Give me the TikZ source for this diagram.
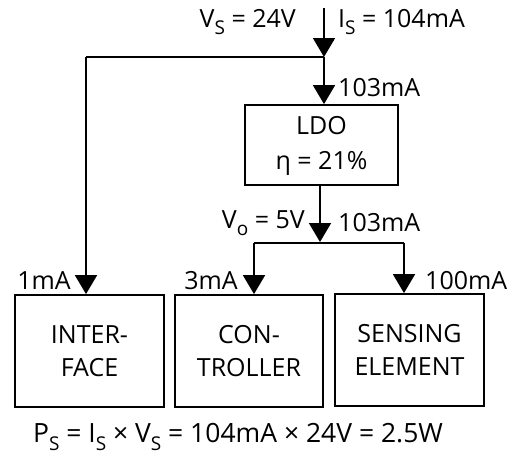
\documentclass[tikz,border=0pt]{standalone}
\usepackage{fontspec}
\setmainfont{Open Sans}
\usetikzlibrary{arrows.meta}
\newcommand{\sbs}[1]{\raisebox{-0.28em}{\fontsize{19}{19}\selectfont #1}}
\begin{document}
\begin{tikzpicture}[x=1pt,y=-1pt,
  wire/.style={line width=1.8pt,-{Triangle[width=22pt,length=19pt]}},
  plain/.style={line width=1.8pt},
  blk/.style={draw,line width=1.8pt,inner sep=0pt,align=center,font=\fontsize{25}{33}\selectfont},
  lbl/.style={font=\fontsize{25}{28}\selectfont,inner sep=0pt}]
\useasboundingbox (0,0) rectangle (513,458);
\node[blk,minimum width=153pt,minimum height=80pt,font=\fontsize{25}{35}\selectfont,text depth=4pt] (ldo) at (321.5,145) {LDO\\η = 21\%};
\node[blk,minimum width=149pt,minimum height=112pt] (ifc) at (89.5,351) {INTER-\\FACE};
\node[blk,minimum width=148pt,minimum height=112pt] (ctl) at (249,351) {CON-\\TROLLER};
\node[blk,minimum width=149pt,minimum height=112pt] (sen) at (409.5,350) {SENSING\\ELEMENT};
\coordinate (top) at (324,8);
\coordinate (j1) at (324,57);
\coordinate (l1) at (86,57);
\coordinate (j2) at (320,242);
\coordinate (c2) at (254,243);
\coordinate (s2) at (404,243);
\draw[wire] (top) -- (j1);
\draw[wire] (j1) -- (j1 |- ldo.north);
\draw[plain] (j1) -- (l1);
\draw[wire] (l1) -- (l1 |- ifc.north);
\draw[wire] (ldo.south -| j2) -- (j2);
\draw[plain] (c2) -- (s2);
\draw[wire] (c2) -- (c2 |- ctl.north);
\draw[wire] (s2) -- (s2 |- sen.north);
\node[lbl,anchor=east] (vs) at (296,22) {V\sbs{S} = 24V};
\node[lbl,anchor=west] (is) at (338,22) {I\sbs{S} = 104mA};
\node[lbl,anchor=west] (i1) at (338,88) {103mA};
\node[lbl,anchor=east] (vo) at (305,223) {V\sbs{o} = 5V};
\node[lbl,anchor=west] (i2) at (338,223) {103mA};
\node[lbl,anchor=east] (a1) at (71,281) {1mA};
\node[lbl,anchor=east] (a2) at (238,281) {3mA};
\node[lbl,anchor=west] (a3) at (425,281) {100mA};
\node[lbl,font=\fontsize{26.5}{30}\selectfont] (ps) at (238,437) {P\sbs{S} = I\sbs{S} × V\sbs{S} = 104mA × 24V = 2.5W};
\end{tikzpicture}
\end{document}
